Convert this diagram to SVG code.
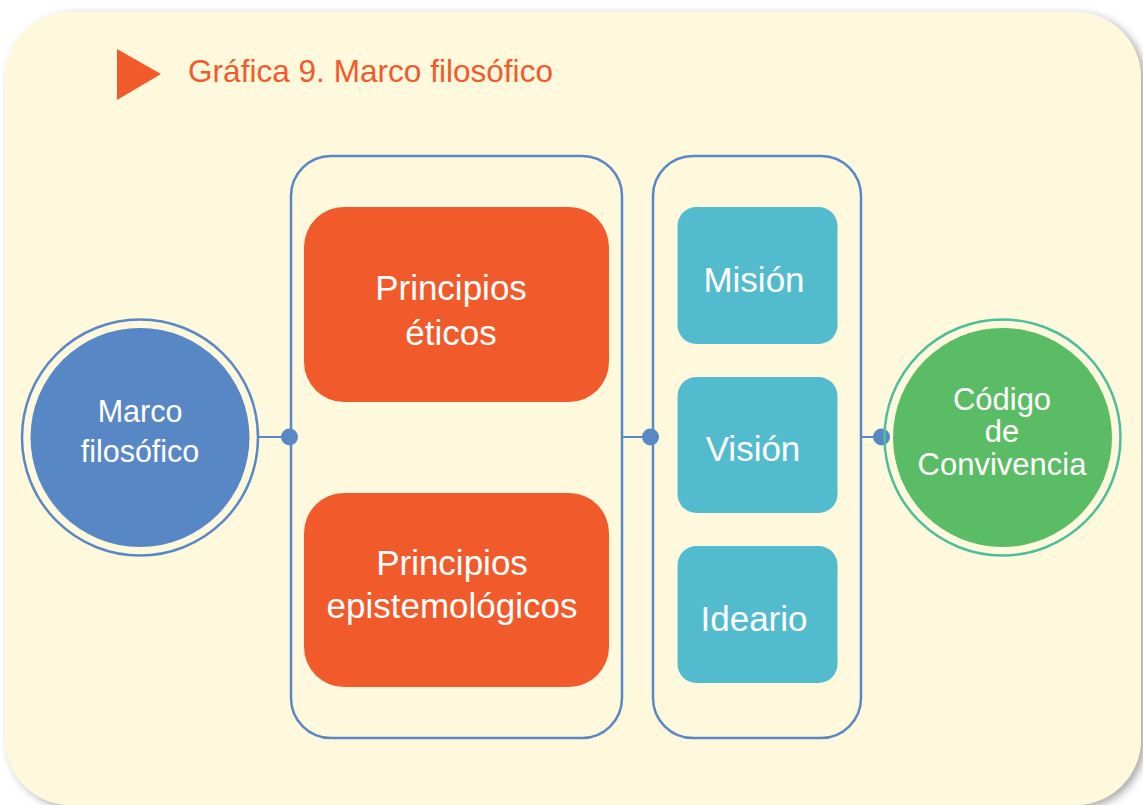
<svg xmlns="http://www.w3.org/2000/svg" width="1143" height="805" viewBox="0 0 1143 805">
<defs>
<filter id="shadow" x="-5%" y="-5%" width="110%" height="110%">
<feDropShadow dx="4" dy="3" stdDeviation="4" flood-color="#000" flood-opacity="0.35"/>
</filter>
<style>
.lbl{font-family:"Liberation Sans",Arial,Helvetica,sans-serif;fill:#fff;text-anchor:middle}
.panel{fill:none;stroke:#5A88C6;stroke-width:2.5}
.orange{fill:#F15B2B}
.teal{fill:#52BCCE}
.conn{stroke:#5A88C6;stroke-width:2;fill:none}
.dot{fill:#5A88C6}
</style>
</defs>
<rect width="1143" height="805" fill="#ffffff"/>
<rect x="5" y="12" width="1136" height="793" rx="66" ry="66" fill="#FEF8DC" filter="url(#shadow)"/>
<g id="title">
<polygon points="117,49 161,74 117,100" fill="#F15B2B"/>
<text x="188" y="82" font-family="'Liberation Sans',Arial,sans-serif" font-size="31.5" fill="#F15B2B" textLength="365" lengthAdjust="spacingAndGlyphs">Gráfica 9. Marco filosófico</text>
</g>
<g id="panel1"><rect class="panel" x="291" y="156" width="331" height="582" rx="40"/></g>
<g id="panel2"><rect class="panel" x="653" y="156" width="208" height="582" rx="40"/></g>
<g id="connectors">
<line class="conn" x1="258" y1="437" x2="289" y2="437"/>
<circle class="dot" cx="289.5" cy="437" r="8.5"/>
<line class="conn" x1="622" y1="437" x2="650" y2="437"/>
<circle class="dot" cx="650.5" cy="437" r="8.5"/>
<line class="conn" x1="861" y1="437" x2="882" y2="437"/>
<circle class="dot" cx="881.5" cy="437" r="8.5"/>
</g>
<g id="marco">
<circle cx="140" cy="437.5" r="118" fill="none" stroke="#5A88C6" stroke-width="2.5"/>
<circle cx="140" cy="437.5" r="109.5" fill="#5887C5"/>
<text class="lbl" x="140" y="421.5" font-size="30.5">Marco</text>
<text class="lbl" x="140" y="462" font-size="30.5">filosófico</text>
</g>
<g id="eticos">
<rect class="orange" x="304" y="207" width="305" height="195" rx="40"/>
<text class="lbl" x="451" y="300" font-size="35">Principios</text>
<text class="lbl" x="451" y="345" font-size="35">éticos</text>
</g>
<g id="epistemologicos">
<rect class="orange" x="304" y="493" width="305" height="194" rx="40"/>
<text class="lbl" x="452" y="575" font-size="35">Principios</text>
<text class="lbl" x="452" y="618" font-size="35">epistemológicos</text>
</g>
<g id="mision">
<rect class="teal" x="677.5" y="207" width="160" height="137" rx="19"/>
<text class="lbl" x="754" y="291.5" font-size="35">Misión</text>
</g>
<g id="vision">
<rect class="teal" x="677.5" y="377" width="160" height="136" rx="19"/>
<text class="lbl" x="753" y="461" font-size="35">Visión</text>
</g>
<g id="ideario">
<rect class="teal" x="677.5" y="546" width="160" height="137" rx="19"/>
<text class="lbl" x="754" y="630.5" font-size="35">Ideario</text>
</g>
<g id="codigo">
<circle cx="1002.5" cy="437.5" r="118" fill="none" stroke="#4CBF9A" stroke-width="2.5"/>
<circle cx="1002.5" cy="437.5" r="109.5" fill="#5BBC66"/>
<text class="lbl" x="1002" y="410" font-size="31">Código</text>
<text class="lbl" x="1002" y="442" font-size="31">de</text>
<text class="lbl" x="1002" y="475" font-size="31">Convivencia</text>
</g>
</svg>
